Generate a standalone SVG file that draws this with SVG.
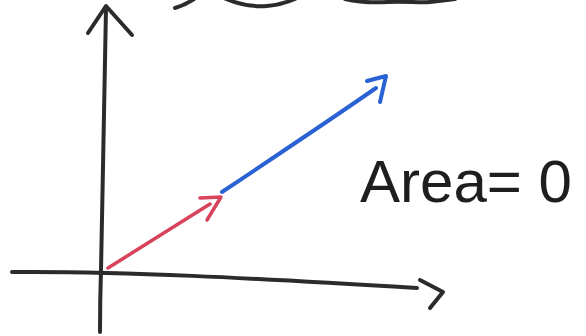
<svg xmlns="http://www.w3.org/2000/svg" width="586" height="336" viewBox="0 0 586 336">
<style>
.ink{fill:none;stroke:#2b2b2b;stroke-width:4;stroke-linecap:round;stroke-linejoin:round}
.red{fill:none;stroke:#d8435c;stroke-width:3.5;stroke-linecap:round;stroke-linejoin:round}
.blue{fill:none;stroke:#2a62d4;stroke-width:4;stroke-linecap:round;stroke-linejoin:round}
.lbl{font-family:"Liberation Sans",Arial,sans-serif;font-size:60px;fill:#1e1e1e}
</style>
<rect width="586" height="336" fill="#ffffff"/>
<g id="wave">
<path class="ink" d="M175,8 C182,6 188,3 194,-1 M226,-1 C238,4 252,7 267,6 C280,5 288,2 295,-1 M345,-1 C358,2 372,3 388,2 C405,1 420,3 430,2 C440,1 448,0 455,-1"/>
</g>
<g id="axes">
<path class="ink" d="M106,8 C104,80 103,180 101,270 C100,300 100,318 100,332"/>
<path class="ink" d="M88,33 L106,6 L132,35"/>
<path class="ink" d="M12,272 C120,271 250,278 417,288"/>
<path class="ink" d="M420,280 L443,292 L430,308"/>
</g>
<g id="connectors">
<g id="red-vector">
<path class="red" d="M108,268 L210,204"/>
<path class="red" d="M200,198 L221,197 L207,220"/>
</g>
<g id="blue-vector">
<path class="blue" d="M222,192 C270,160 330,120 376,88"/>
<path class="blue" d="M367,81 L386,76 L380,102"/>
</g>
</g>
<g id="label">
<text class="lbl" x="360" y="202" textLength="212" lengthAdjust="spacingAndGlyphs">Area= 0</text>
</g>
</svg>
